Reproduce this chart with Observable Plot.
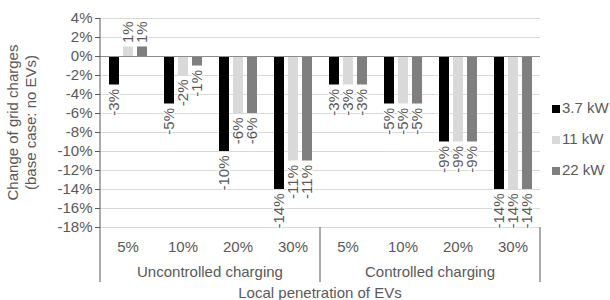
<!DOCTYPE html>
<html>
<head>
<meta charset="utf-8">
<script src="https://cdn.jsdelivr.net/npm/d3@7"></script>
<script src="https://cdn.jsdelivr.net/npm/@observablehq/plot@0.6"></script>
<style>
  html, body { margin: 0; padding: 0; background: white; }
</style>
</head>
<body>
<div id="chart"></div>
<script>
const penetration = ["5%", "10%", "20%", "30%"];
const modes = ["Uncontrolled charging", "Controlled charging"];
const series = ["3.7 kW", "11 kW", "22 kW"];
const uncontrolled37 = [-3, -5, -10, -14];
const uncontrolled11 = [1, -2, -6, -11];
const uncontrolled22 = [1, -1, -6, -11];
const controlled37 = [-3, -5, -9, -14];
const controlled11 = [-3, -5, -9, -14];
const controlled22 = [-3, -5, -9, -14];
const yTicks = [-18, -16, -14, -12, -10, -8, -6, -4, -2, 0, 2, 4];
const colors = ["#000000", "#d9d9d9", "#7f7f7f"];
const yTitle = ["Change of grid charges", "(base case: no EVs)"];
const xTitle = "Local penetration of EVs";

const valuesByMode = [
  [uncontrolled37, uncontrolled11, uncontrolled22],
  [controlled37, controlled11, controlled22]
];
const keys = [];
const data = [];
modes.forEach((m, mi) => {
  penetration.forEach((p, pi) => {
    const key = m + "|" + p;
    keys.push(key);
    series.forEach((s, si) => {
      data.push({key, mode: m, pen: p, series: s, value: valuesByMode[mi][si][pi]});
    });
  });
});

const textColor = "#595959";
const font = "'Liberation Sans', Arial, sans-serif";
const fs = 15;

const chart = Plot.plot({
  width: 610,
  height: 300,
  marginLeft: 96,
  marginRight: 67,
  marginTop: 18,
  marginBottom: 73,
  style: {fontFamily: font, fontSize: fs + "px", color: textColor, background: "white", overflow: "visible"},
  fx: {domain: keys, padding: 0, label: null, axis: "bottom", tickSize: 0, tickPadding: 14, tickFormat: k => k.split("|")[1]},
  x: {domain: series, paddingInner: 0.31, paddingOuter: 0.58, axis: null},
  y: {domain: [-18, 4], ticks: yTicks, tickFormat: d => d + "%", label: null, tickSize: 5, tickPadding: 3},
  color: {domain: series, range: colors},
  marks: [
    Plot.gridY(yTicks, {stroke: "#d9d9d9", strokeOpacity: 1}),
    Plot.barY(data, {fx: "key", x: "series", y: "value", fill: "series"}),
    Plot.ruleY([0], {stroke: "#8c8c8c"}),
    Plot.text(data.filter(d => d.value < 0), {
      fx: "key", x: "series", y: "value", text: d => d.value + "%",
      rotate: -90, textAnchor: "end", dy: 4, fill: textColor,
      stroke: "white", strokeWidth: 3, fontSize: fs
    }),
    Plot.text(data.filter(d => d.value >= 0), {
      fx: "key", x: "series", y: "value", text: d => d.value + "%",
      rotate: -90, textAnchor: "start", dy: -4, fill: textColor,
      stroke: "white", strokeWidth: 3, fontSize: fs
    })
  ]
});

document.getElementById("chart").appendChild(chart);

const svg = d3.select(chart);
const fx = chart.scale("fx");
const y = chart.scale("y");
const bw = fx.bandwidth;
const left = fx.apply(keys[0]);
const right = fx.apply(keys[keys.length - 1]) + bw;
const yTop = y.apply(4);
const yBottom = y.apply(-18);
const sepBottom = 282;
const g = svg.append("g").attr("font-family", font).attr("font-size", fs).attr("fill", textColor);

// y axis line
g.append("line").attr("x1", left).attr("x2", left).attr("y1", yTop).attr("y2", sepBottom)
  .attr("stroke", textColor).attr("stroke-width", 1);

// group separators
const midSep = fx.apply(keys[penetration.length]);
[midSep, right].forEach(x => {
  g.append("line").attr("x1", x).attr("x2", x).attr("y1", yBottom).attr("y2", sepBottom)
    .attr("stroke", textColor).attr("stroke-width", 1);
});

// group labels
modes.forEach((m, mi) => {
  const x0 = fx.apply(keys[mi * penetration.length]);
  const x1 = fx.apply(keys[mi * penetration.length + penetration.length - 1]) + bw;
  g.append("text").attr("x", (x0 + x1) / 2).attr("y", 273).attr("text-anchor", "middle")
    .attr("dominant-baseline", "middle").text(m);
});

// x title
g.append("text").attr("x", (left + right) / 2).attr("y", 294).attr("text-anchor", "middle")
  .attr("dominant-baseline", "middle").text(xTitle);

// y title
const yMid = (yTop + yBottom) / 2;
yTitle.forEach((t, i) => {
  g.append("text").attr("transform", `translate(${14 + i * 18},${yMid}) rotate(-90)`)
    .attr("text-anchor", "middle").attr("dominant-baseline", "middle").text(t);
});

// legend
const legendY = [109, 140, 171];
series.forEach((s, i) => {
  g.append("rect").attr("x", 552).attr("y", legendY[i] - 4).attr("width", 8).attr("height", 8)
    .attr("fill", colors[i]);
  g.append("text").attr("x", 562).attr("y", legendY[i]).attr("text-anchor", "start")
    .attr("dominant-baseline", "middle").text(s);
});
</script>
</body>
</html>
